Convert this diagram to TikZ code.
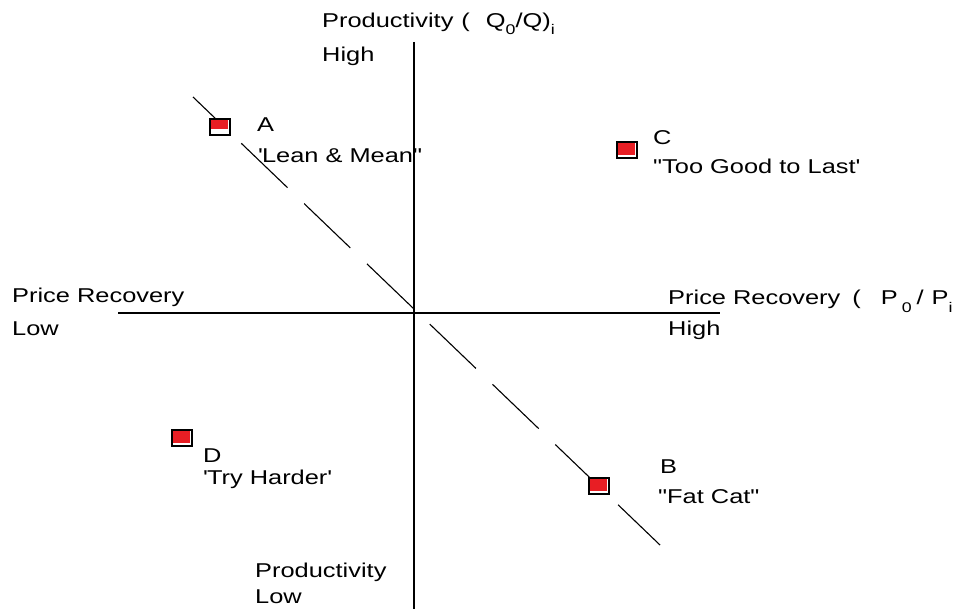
\documentclass[tikz,border=0pt]{standalone}
\usepackage{fontspec}
\newfontfamily\lblfont[FakeStretch=1.27]{Liberation Sans}
\definecolor{mkred}{RGB}{232,30,36}
\newcommand\lowidx[1]{\raisebox{-7pt}{\fontsize{14}{14}\selectfont #1}}
\usetikzlibrary{positioning}

\begin{document}
\begin{tikzpicture}[x=1pt, y=-1pt,
    axis/.style={line width=1.6pt, black},
    trend/.style={line width=1.1pt, black, dash pattern=on 64pt off 23pt, dash phase=20pt},
    sqmark/.style={rectangle, draw=black, line width=1.2pt, fill=white, inner sep=0pt,
      minimum width=20pt, minimum height=16pt,
      path picture={\fill[mkred] (path picture bounding box.north west) rectangle
        ([xshift=-2pt, yshift=#1pt]path picture bounding box.south east);}},
    sqmark/.default=3,
    lbl/.style={anchor=base west, inner sep=0pt, font=\lblfont\fontsize{20}{24}\selectfont}
  ]
  \useasboundingbox (0,0) rectangle (957,609);

  % trend line and axes
  \coordinate (ltop) at (193,97);
  \coordinate (lbot) at (660,545);
  \coordinate (ytop) at (414,42);
  \coordinate (ybot) at (414,609);
  \coordinate (xlft) at (118,313);
  \coordinate (xrgt) at (720,313);
  \draw[trend] (ltop) -- (lbot);
  \draw[axis] (ytop) -- (ybot);
  \draw[axis] (xlft) -- (xrgt);

  % quadrant markers
  \node[sqmark=6] (mA) at (220,127) {};
  \node[sqmark]   (mC) at (627,150) {};
  \node[sqmark]   (mD) at (182,438) {};
  \node[sqmark]   (mB) at (599,486) {};

  % axis labels
  \node[lbl] (ptop)  at (322,28)  {Productivity\hspace{8pt}(\hspace{16pt}Q\lowidx{0}/Q)\lowidx{i}};
  \node[lbl] (phigh) at (322,62)  {High};
  \node[lbl] (rlft)  at (12,302)  {Price Recovery};
  \node[lbl] (rlow)  at (12,335)  {Low};
  \node[lbl] (rrgt)  at (668,305) {Price Recovery\hspace{12pt}(\hspace{20pt}P\hspace{4pt}\lowidx{0}\hspace{5pt}/\hspace{8pt}P\lowidx{i}};
  \node[lbl] (rhigh) at (668,335) {High};
  \node[lbl] (pbot)  at (255,577) {Productivity};
  \node[lbl] (plow)  at (255,603) {Low};

  % quadrant names
  \node[lbl] (lA) at (257,132) {A};
  \node[lbl] (nA) at (258,163) {\textquotesingle Lean \& Mean"};
  \node[lbl] (lC) at (653,145) {C};
  \node[lbl] (nC) at (653,174) {"Too Good to Last\textquotesingle};
  \node[lbl] (lD) at (203,462) {D};
  \node[lbl] (nD) at (203,484) {\textquotesingle Try Harder\textquotesingle};
  \node[lbl] (lB) at (660,473) {B};
  \node[lbl] (nB) at (658,503) {"Fat Cat"};
\end{tikzpicture}
\end{document}
